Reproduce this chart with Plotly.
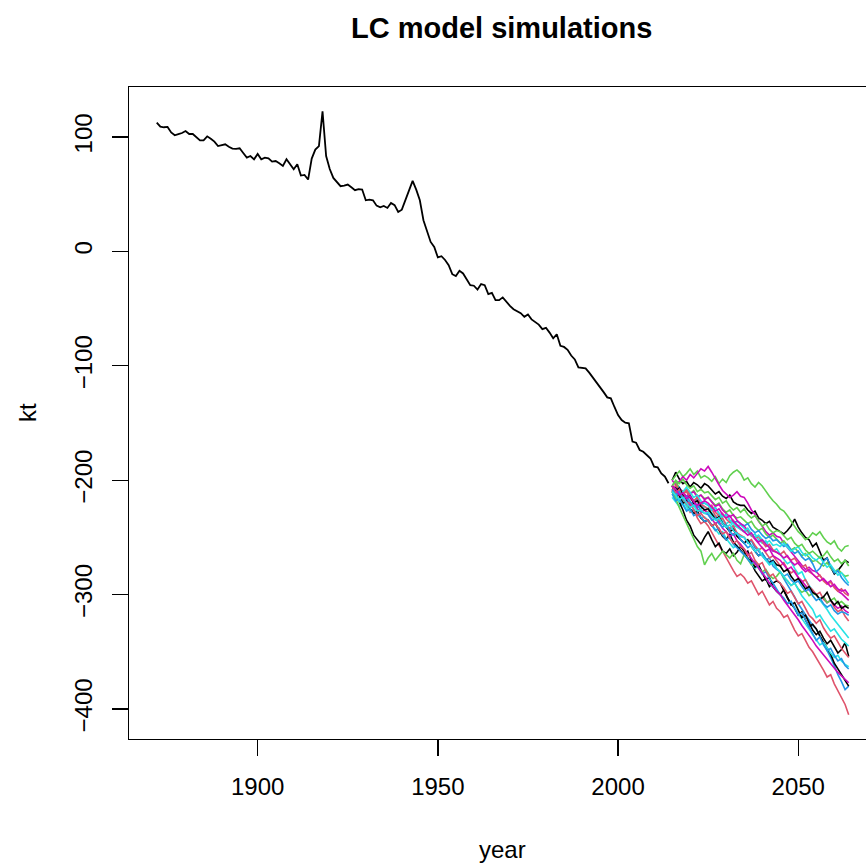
import plotly.graph_objects as go

# ---------------- data ----------------
hist_years = list(range(1872, 2015))
hist_kt = [
    112.6, 109, 108.5, 108.8, 104, 101.5, 102.5, 103.5, 105.2, 102.6,
    102.6, 100, 97.1, 97.1, 100.6, 98.5, 96, 92.1, 93, 93.6,
    91.5, 89.9, 89.6, 90.1, 86, 82, 83.4, 80.5, 85.2, 80.5,
    82, 81.4, 78.5, 79, 77, 74.7, 80.5, 76, 71.8, 76.2,
    66.3, 66.8, 62.8, 81.1, 89, 92.1, 122.4, 83.4, 72, 64.2,
    60.7, 57, 57.5, 58.4, 56, 53.5, 54.5, 54.1, 44.7, 45.3,
    44.7, 40, 38.5, 39.7, 38, 42.4, 40.4, 34.5, 36.5, 45,
    53, 61.6, 54, 44.7, 27.3, 18, 8.3, 3.9, -5.3, -4.2,
    -7.5, -12, -19.9, -21.6, -17, -19.3, -25, -29.5, -30, -33.3,
    -28.6, -29.5, -37.4, -36.2, -42.6, -42.6, -40.2, -44, -47.6, -50.5,
    -51.9, -54, -57.2, -55.1, -59.4, -61.5, -64, -67.9, -66.8, -71,
    -76, -72.5, -82.5, -83.5, -86, -91, -94.4, -101.4, -101.8, -102.2,
    -106, -110, -114, -118, -123, -127.6, -128.4, -136, -143, -147.4,
    -149.7, -150.3, -166.3, -167.2, -173.6, -175.1, -178, -181, -188.2, -188.7,
    -194, -196.9, -202.6,
]

sim_years = list(range(2015, 2065))

sim_k1 = [-200, -193, -199, -203, -201, -206, -202, -204, -207, -203,
          -205, -209, -212, -210, -214, -216, -213, -219, -221, -222,
          -222, -226, -229, -227, -233, -235, -238, -236, -241, -243,
          -245, -247, -244, -240, -234, -241, -246, -250, -252, -258,
          -255, -263, -270, -268, -276, -282, -279, -275, -270, -272]
sim_r1 = [-208, -212, -218, -215, -222, -228, -226, -233, -238, -236,
          -240, -246, -252, -257, -262, -268, -273, -279, -284, -282,
          -285, -290, -288, -294, -300, -297, -303, -309, -306, -312,
          -315, -320, -318, -325, -331, -336, -334, -340, -346, -350,
          -355, -360, -366, -372, -370, -378, -384, -390, -396, -405]
sim_g1 = [-200, -196, -192, -197, -194, -190, -195, -192, -198, -196,
          -198, -201, -197, -203, -199, -202, -196, -193, -191, -194,
          -200, -198, -203, -206, -202, -205, -210, -214, -218, -221,
          -225, -227, -231, -236, -241, -245, -248, -252, -250, -246,
          -248, -245, -250, -254, -256, -253, -259, -262, -258, -257]
sim_b1 = [-210, -214, -212, -218, -216, -221, -219, -224, -222, -226,
          -225, -230, -234, -232, -237, -240, -243, -241, -247, -249,
          -250, -255, -253, -259, -262, -266, -270, -268, -275, -278,
          -280, -286, -291, -296, -302, -308, -313, -318, -322, -327,
          -330, -336, -342, -349, -355, -362, -370, -376, -383, -380]
sim_c1 = [-215, -219, -223, -220, -226, -224, -221, -227, -225, -223,
          -225, -229, -232, -230, -235, -238, -236, -241, -240, -239,
          -242, -246, -249, -247, -252, -255, -253, -258, -262, -260,
          -265, -269, -273, -271, -277, -282, -280, -287, -292, -296,
          -300, -305, -309, -313, -318, -322, -327, -331, -335, -338]
sim_m1 = [-200, -204, -201, -197, -200, -195, -198, -194, -190, -192,
          -188, -193, -199, -204, -209, -212, -215, -213, -210, -214,
          -215, -220, -226, -230, -236, -240, -245, -248, -246, -249,
          -250, -255, -259, -263, -267, -270, -274, -278, -276, -279,
          -280, -284, -287, -290, -288, -293, -297, -299, -302, -305]
sim_k2 = [-205, -212, -220, -226, -235, -240, -248, -252, -256, -250,
          -245, -252, -258, -255, -262, -264, -260, -266, -263, -258,
          -262, -268, -272, -279, -283, -288, -286, -293, -290, -288,
          -290, -297, -303, -308, -312, -318, -315, -322, -328, -326,
          -330, -336, -341, -347, -352, -360, -365, -371, -376, -380]
sim_r2 = [-205, -201, -208, -212, -210, -216, -219, -217, -223, -226,
          -228, -225, -231, -235, -233, -239, -242, -240, -246, -248,
          -250, -254, -252, -257, -261, -259, -264, -268, -266, -271,
          -275, -272, -278, -281, -279, -285, -289, -287, -293, -296,
          -300, -298, -304, -307, -305, -311, -315, -313, -319, -323]
sim_g2 = [-205, -201, -207, -210, -208, -212, -209, -214, -213, -216,
          -215, -219, -222, -220, -225, -228, -226, -231, -233, -232,
          -235, -238, -236, -241, -244, -242, -247, -250, -248, -252,
          -255, -253, -257, -261, -259, -263, -266, -264, -268, -271,
          -270, -273, -275, -272, -277, -280, -278, -281, -284, -283]
sim_b2 = [-205, -209, -206, -212, -215, -213, -218, -216, -221, -220,
          -222, -226, -224, -229, -232, -230, -235, -237, -236, -238,
          -240, -238, -243, -246, -244, -248, -251, -249, -253, -252,
          -255, -258, -256, -261, -264, -262, -267, -270, -268, -273,
          -280, -277, -271, -268, -275, -281, -279, -285, -289, -292]
sim_c2 = [-210, -214, -219, -217, -223, -227, -225, -230, -233, -232,
          -235, -239, -243, -247, -245, -251, -255, -259, -257, -262,
          -265, -269, -273, -277, -275, -281, -286, -290, -294, -297,
          -300, -304, -308, -306, -312, -317, -321, -325, -330, -335,
          -340, -344, -342, -347, -351, -355, -353, -358, -361, -363]
sim_m2 = [-205, -209, -207, -211, -214, -212, -210, -215, -213, -217,
          -215, -219, -223, -221, -226, -229, -232, -230, -235, -238,
          -240, -244, -248, -252, -256, -259, -262, -260, -266, -268,
          -270, -274, -278, -276, -281, -285, -288, -292, -296, -298,
          -300, -304, -302, -307, -305, -309, -312, -310, -314, -316]
sim_k3 = [-210, -206, -214, -220, -218, -225, -229, -227, -233, -236,
          -235, -240, -238, -244, -249, -252, -247, -254, -258, -262,
          -265, -262, -270, -276, -274, -281, -287, -285, -293, -297,
          -300, -296, -303, -309, -307, -314, -320, -318, -325, -331,
          -335, -332, -338, -343, -340, -346, -351, -348, -342, -354]
sim_r3 = [-210, -204, -209, -213, -208, -214, -218, -215, -221, -223,
          -225, -222, -228, -231, -229, -234, -237, -235, -240, -243,
          -245, -243, -248, -251, -249, -254, -258, -256, -261, -263,
          -265, -262, -267, -270, -268, -273, -276, -274, -280, -282,
          -285, -283, -288, -291, -289, -294, -297, -295, -299, -301]
sim_g3 = [-210, -216, -224, -231, -238, -245, -252, -258, -262, -274,
          -268, -264, -270, -266, -262, -265, -268, -264, -270, -273,
          -265, -269, -274, -272, -277, -280, -278, -283, -286, -284,
          -280, -285, -288, -292, -290, -295, -298, -296, -301, -299,
          -300, -304, -302, -307, -305, -303, -308, -306, -309, -310]
sim_b3 = [-212, -218, -216, -222, -227, -225, -231, -229, -233, -236,
          -235, -240, -244, -242, -248, -252, -250, -256, -259, -262,
          -265, -269, -273, -271, -277, -282, -280, -286, -290, -295,
          -300, -303, -308, -306, -312, -318, -316, -322, -327, -334,
          -340, -337, -344, -349, -347, -353, -358, -356, -362, -365]
sim_c3 = [-205, -208, -212, -210, -206, -211, -215, -213, -218, -220,
          -222, -226, -224, -229, -232, -230, -235, -238, -241, -243,
          -245, -242, -247, -250, -248, -252, -255, -253, -257, -256,
          -258, -255, -259, -262, -260, -258, -263, -266, -264, -268,
          -270, -267, -272, -276, -274, -279, -283, -281, -286, -290]
sim_m3 = [-208, -212, -210, -216, -219, -222, -220, -225, -228, -226,
          -230, -234, -238, -236, -242, -245, -249, -247, -253, -256,
          -260, -264, -268, -272, -276, -281, -285, -290, -293, -297,
          -300, -305, -309, -313, -318, -322, -327, -331, -336, -340,
          -345, -349, -353, -357, -361, -364, -368, -371, -374, -377]
sim_k4 = [-205, -209, -207, -213, -216, -214, -220, -218, -223, -226,
          -225, -229, -234, -232, -238, -241, -245, -243, -249, -252,
          -255, -252, -258, -262, -266, -264, -269, -272, -270, -274,
          -275, -280, -278, -284, -288, -286, -291, -295, -293, -298,
          -300, -304, -302, -298, -305, -309, -306, -312, -310, -312]
sim_r4 = [-205, -211, -208, -216, -221, -219, -226, -231, -229, -233,
          -235, -240, -238, -243, -247, -245, -251, -255, -253, -258,
          -260, -266, -263, -270, -274, -272, -279, -284, -282, -287,
          -290, -294, -299, -297, -303, -308, -306, -312, -318, -321,
          -325, -322, -329, -334, -338, -336, -342, -347, -351, -355]
sim_g4 = [-205, -200, -203, -199, -204, -207, -205, -210, -208, -211,
          -210, -214, -217, -215, -220, -218, -223, -226, -224, -228,
          -225, -230, -233, -231, -236, -240, -238, -243, -246, -244,
          -245, -249, -252, -250, -255, -258, -256, -261, -264, -262,
          -265, -268, -266, -262, -267, -271, -269, -273, -270, -275]
sim_b4 = [-208, -213, -210, -216, -214, -219, -223, -221, -227, -229,
          -230, -235, -233, -238, -241, -239, -245, -248, -246, -252,
          -255, -259, -257, -262, -266, -264, -269, -273, -271, -277,
          -280, -284, -282, -287, -290, -288, -293, -297, -295, -301,
          -305, -303, -308, -311, -309, -314, -317, -315, -316, -318]
sim_c4 = [-210, -213, -217, -215, -220, -224, -222, -227, -226, -229,
          -228, -232, -235, -233, -238, -241, -239, -244, -247, -249,
          -250, -254, -258, -262, -260, -266, -270, -274, -272, -277,
          -280, -284, -288, -292, -290, -296, -301, -305, -309, -313,
          -320, -318, -323, -328, -332, -330, -335, -339, -342, -345]
sim_m4 = [-205, -208, -213, -211, -216, -214, -219, -222, -220, -218,
          -220, -224, -227, -225, -230, -233, -231, -236, -239, -242,
          -245, -248, -246, -251, -254, -252, -256, -259, -262, -263,
          -265, -268, -266, -271, -274, -272, -277, -280, -278, -282,
          -285, -288, -286, -290, -293, -291, -295, -297, -296, -300]

simulations = [sim_k1, sim_r1, sim_g1, sim_b1, sim_c1, sim_m1,
               sim_k2, sim_r2, sim_g2, sim_b2, sim_c2, sim_m2,
               sim_k3, sim_r3, sim_g3, sim_b3, sim_c3, sim_m3,
               sim_k4, sim_r4, sim_g4, sim_b4, sim_c4, sim_m4]

x_ticks = [1900, 1950, 2000, 2050]
y_ticks = [-400, -300, -200, -100, 0, 100]

# ---------------- styling ----------------
palette = ["#000000", "#DF536B", "#61D04F", "#2297E6", "#28E2E5", "#CD0BBC"]
FONT = "Liberation Sans, Arial, Helvetica, sans-serif"

fig = go.Figure()
fig.add_trace(go.Scatter(x=hist_years, y=hist_kt, mode="lines",
                         line=dict(color="black", width=1.8),
                         showlegend=False, hoverinfo="skip"))
for i, s in enumerate(simulations):
    fig.add_trace(go.Scatter(x=sim_years, y=s, mode="lines",
                             line=dict(color=palette[i % 6], width=1.6),
                             showlegend=False, hoverinfo="skip"))

fig.update_layout(
    width=866, height=863,
    margin=dict(l=129, r=0, t=87, b=124),
    paper_bgcolor="white", plot_bgcolor="white",
    font=dict(family=FONT, size=24, color="black"),
    showlegend=False,
    annotations=[
        dict(text="<b>LC model simulations</b>", xref="paper", yref="paper",
             x=(501.5 - 129) / (866 - 129), y=1 + (87 - 28) / (863 - 87 - 124),
             xanchor="center", yanchor="middle", showarrow=False,
             font=dict(family=FONT, size=29, color="black")),
        dict(text="year", xref="paper", yref="paper",
             x=(502.5 - 129) / (866 - 129), y=-(849 - 739) / (863 - 87 - 124),
             xanchor="center", yanchor="middle", showarrow=False,
             font=dict(family=FONT, size=24, color="black")),
        dict(text="kt", xref="paper", yref="paper", textangle=-90,
             x=-(129 - 27) / (866 - 129), y=0.5,
             xanchor="center", yanchor="middle", showarrow=False,
             font=dict(family=FONT, size=24, color="black")),
    ],
)
fig.update_xaxes(range=[1864.3, 2068.8], tickvals=x_ticks,
                 ticks="outside", ticklen=16, tickwidth=1.3, tickcolor="black",
                 showline=True, linecolor="black", linewidth=1.3, mirror=True,
                 showgrid=False, zeroline=False, ticklabelstandoff=10,
                 tickfont=dict(family=FONT, size=24, color="black"))
fig.update_yaxes(range=[-426.2, 143.7], tickvals=y_ticks, tickangle=-90,
                 ticks="outside", ticklen=16, tickwidth=1.3, tickcolor="black",
                 showline=True, linecolor="black", linewidth=1.3, mirror=False,
                 showgrid=False, zeroline=False, ticklabelstandoff=10,
                 tickfont=dict(family=FONT, size=24, color="black"))

fig.write_html("out.html",
               config={"displayModeBar": False, "staticPlot": True},
               post_script="document.body.style.margin='0';document.body.style.overflow='hidden';")
